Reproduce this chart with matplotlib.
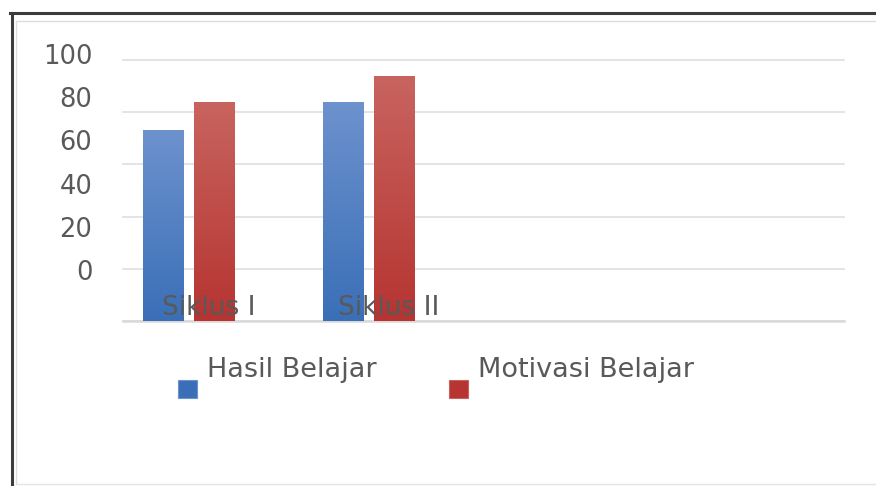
import matplotlib
matplotlib.use("Agg")
import matplotlib.pyplot as plt
import numpy as np
from matplotlib.colors import LinearSegmentedColormap
from matplotlib.patches import Rectangle
from matplotlib.lines import Line2D

# ---- data ----
categories = ["Siklus I", "Siklus II"]
series_names = ["Hasil Belajar", "Motivasi Belajar"]
hasil_belajar = [73, 84]
motivasi_belajar = [84, 94]
y_ticks = [0, 20, 40, 60, 80, 100]
y_tick_labels = ["0", "20", "40", "60", "80", "100"]

W, H = 876, 486
fig = plt.figure(figsize=(W / 100, H / 100), dpi=100)
fig.patch.set_facecolor("white")


def fx(px):
    return px / W


def fy(py):
    return 1 - py / H


text_color = "#595959"
blue_top, blue_bot = "#6d92ce", "#3a6fb7"
red_top, red_bot = "#c8645f", "#b63431"

# ---- main plot area ----
ax = fig.add_axes([fx(123), fy(321), fx(844) - fx(123), fy(60) - fy(321)])
ax.set_facecolor("none")

x = np.arange(len(categories))
bw = 0.227
off = 0.141
b1 = ax.bar(x - off, hasil_belajar, width=bw, color=blue_bot, zorder=2)
b2 = ax.bar(x + off, motivasi_belajar, width=bw, color=red_bot, zorder=2)

grad = np.linspace(0, 1, 256).reshape(-1, 1)
for bars, top, bot in [(b1, blue_top, blue_bot), (b2, red_top, red_bot)]:
    cmap = LinearSegmentedColormap.from_list("g", [bot, top])
    for p in bars:
        x0, w, h = p.get_x(), p.get_width(), p.get_height()
        im = ax.imshow(grad, extent=[x0, x0 + w, 0, h], origin="lower",
                       aspect="auto", cmap=cmap, zorder=3)
        im.set_clip_path(p)

ax.set_xlim(-0.366, 3.634)
ax.set_ylim(0, 100)
ax.set_yticks(y_ticks)
ax.yaxis.grid(True, color="#e2e2e2", lw=1.3, zorder=0)
for gl in ax.get_ygridlines():
    gl.set_clip_on(False)
ax.set_axisbelow(True)
ax.tick_params(left=False, labelleft=False, bottom=False, labelbottom=False)
for s in ["top", "right", "left"]:
    ax.spines[s].set_visible(False)
ax.spines["bottom"].set_color("#d9d9d9")
ax.spines["bottom"].set_linewidth(1.8)

for i, c in enumerate(categories):
    ax.text(i + 0.11, 2.3, c, ha="center", va="baseline", fontsize=19,
            color=text_color, zorder=6)

# ---- y tick labels (offset axis, as in the original) ----
ax2 = fig.add_axes([fx(123), fy(270), 0.01, fy(54) - fy(270)])
ax2.set_ylim(0, 100)
ax2.set_yticks(y_ticks)
ax2.set_yticklabels(y_tick_labels)
ax2.tick_params(axis="y", length=0, pad=22, labelsize=18.5, labelcolor=text_color)
ax2.tick_params(axis="x", bottom=False, labelbottom=False)
ax2.patch.set_visible(False)
for s in ax2.spines.values():
    s.set_visible(False)

# ---- legend ----
legend_items = [(178, 207, blue_top, blue_bot), (449, 478, red_top, red_bot)]
for (sq_x, tx, top, bot), name in zip(legend_items, series_names):
    fig.add_artist(Rectangle((fx(sq_x), fy(398)), 19 / W, 18 / H,
                             transform=fig.transFigure, facecolor=bot,
                             edgecolor=top, lw=0.8))
    fig.text(fx(tx), fy(377), name, va="baseline", ha="left", fontsize=19.5,
             color=text_color)

# ---- frame ----
fig.add_artist(Line2D([fx(10), 1], [fy(13.5), fy(13.5)], transform=fig.transFigure,
                      color="#3c3c3c", lw=2.2))
fig.add_artist(Line2D([fx(11.5), fx(11.5)], [fy(13.5), 0], transform=fig.transFigure,
                      color="#3c3c3c", lw=2.2))
fig.add_artist(Line2D([fx(15.5), 1], [fy(21.5), fy(21.5)], transform=fig.transFigure,
                      color="#dcdcdc", lw=1.0))
fig.add_artist(Line2D([fx(15.5), fx(15.5)], [fy(21.5), fy(484)], transform=fig.transFigure,
                      color="#dcdcdc", lw=1.0))
fig.add_artist(Line2D([fx(15.5), 1], [fy(484), fy(484)], transform=fig.transFigure,
                      color="#e4e4e4", lw=1.0))

fig.savefig("out.png", dpi=100, facecolor="white")
